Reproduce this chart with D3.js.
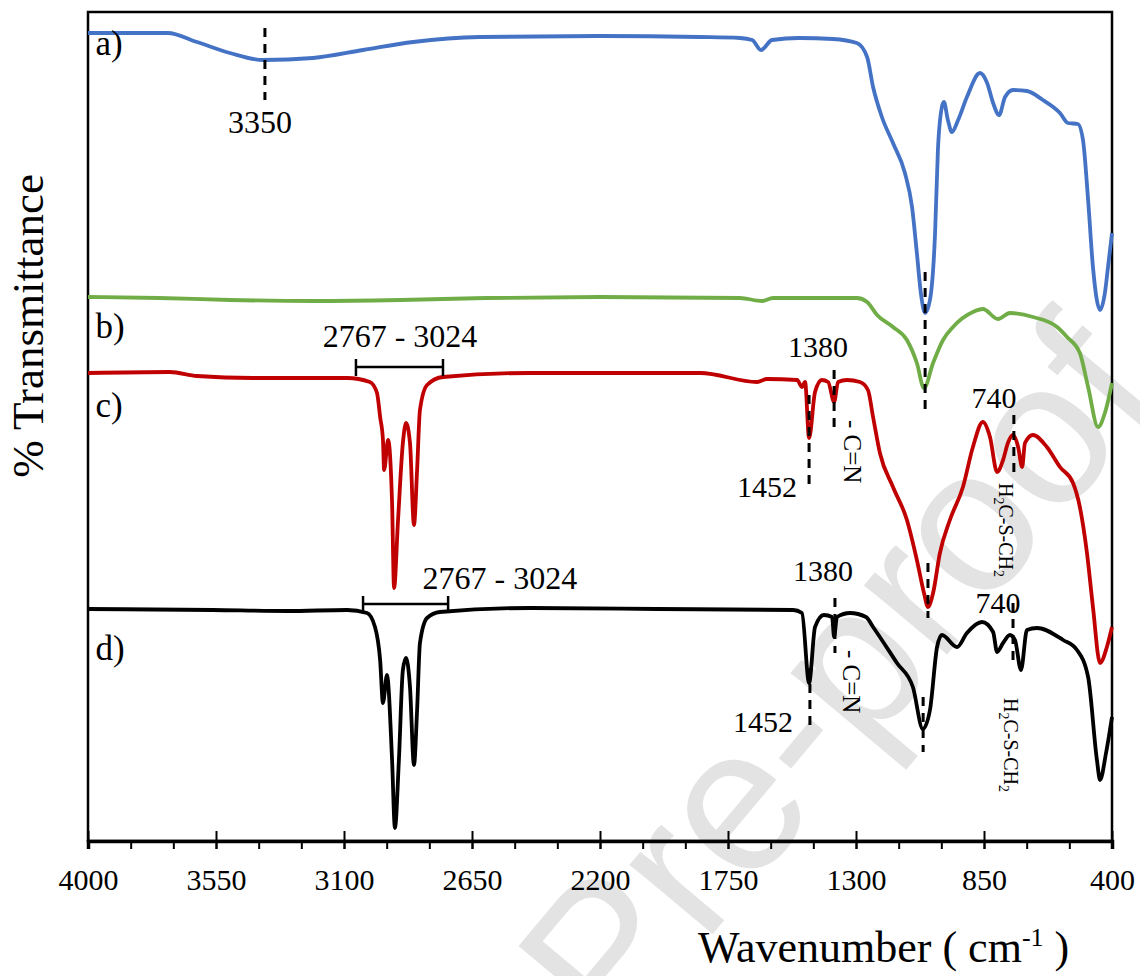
<!DOCTYPE html>
<html>
<head>
<meta charset="utf-8">
<title>FTIR spectra</title>
<script src="https://cdn.jsdelivr.net/npm/d3@7"></script>
<style>
  body { margin: 0; background: #fff; }
  svg text { font-family: "Liberation Serif", "Times New Roman", serif; fill: #000; }
</style>
</head>
<body>
<div id="chart"></div>
<script>
// spectra: [wavenumber cm-1, stacked % transmittance]
const specA = [
  [4000, 80.8], [3850, 80.8], [3720, 80.8], [3617, 79.9], [3501, 78.8], [3385, 78.1],
  [3209, 78.3], [3033, 79.1], [2857, 79.9], [2622, 80.4], [2200, 80.5], [1850, 80.4],
  [1708, 80.3], [1665, 80.1], [1634, 79.1], [1595, 80.1], [1500, 80.3], [1381, 80.2],
  [1297, 79.8], [1261, 78.4], [1240, 75.4], [1209, 72.4], [1170, 69.8], [1128, 66.8],
  [1103, 63.4], [1086, 58.8], [1072, 54.8], [1057, 52.8], [1040, 54.1], [1022, 60.8],
  [1012, 69.1], [998, 73.4], [991, 73.9], [977, 72.1], [963, 70.9], [941, 72.1],
  [910, 74.4], [864, 76.8], [839, 75.8], [818, 73.8], [797, 72.6], [776, 74.4],
  [748, 75.1], [699, 75.0], [643, 74.1], [583, 72.8], [555, 71.8], [520, 71.7],
  [502, 70.1], [484, 64.1], [467, 57.4], [442, 53.1], [425, 54.8], [414, 57.4], [400, 60.8]
];
const specB = [
  [4000, 54.4], [3750, 54.3], [3500, 54.1], [3200, 54.0], [2900, 54.1], [2600, 54.3],
  [2200, 54.4], [1708, 54.3], [1630, 54.0], [1592, 54.3], [1297, 54.3], [1261, 53.9],
  [1226, 52.6], [1170, 51.4], [1121, 50.1], [1086, 47.8], [1061, 45.3], [1029, 47.8],
  [994, 50.1], [959, 51.4], [889, 52.9], [854, 53.2], [801, 52.2], [759, 52.8],
  [678, 52.4], [593, 51.4], [558, 50.4], [513, 48.8], [484, 45.4], [449, 41.4],
  [425, 42.8], [400, 45.8]
];
const specC = [
  [4000, 46.8], [3712, 46.9], [3617, 46.5], [3420, 46.3], [3089, 46.3], [3009, 45.9],
  [2984, 44.8], [2973, 42.4], [2963, 40.1], [2959, 37.1], [2945, 40.1], [2931, 33.8],
  [2924, 25.3], [2910, 32.1], [2893, 39.8], [2882, 41.8], [2868, 39.8], [2854, 31.6],
  [2843, 37.1], [2833, 43.1], [2808, 45.6], [2752, 46.4], [2446, 46.8], [2100, 46.8],
  [1848, 46.8], [1648, 45.9], [1613, 46.2], [1507, 46.1], [1490, 45.4], [1479, 45.9],
  [1465, 40.3], [1444, 44.9], [1420, 46.1], [1398, 45.9], [1377, 43.9], [1363, 45.9],
  [1332, 46.1], [1286, 45.9], [1258, 45.1], [1240, 42.4], [1216, 38.8], [1170, 35.4],
  [1121, 32.1], [1086, 28.1], [1061, 24.8], [1047, 23.4], [1029, 24.8], [1005, 28.8],
  [970, 32.1], [924, 35.4], [889, 39.4], [854, 41.9], [829, 40.4], [804, 36.9],
  [783, 38.1], [766, 39.8], [748, 40.6], [730, 39.4], [716, 37.4], [706, 39.8],
  [678, 40.6], [629, 39.4], [583, 37.4], [537, 35.8], [513, 33.4], [488, 28.8],
  [467, 23.4], [442, 17.8], [418, 19.4], [400, 21.4]
];
const specD = [
  [4000, 23.2], [3561, 23.1], [3300, 23.0], [3089, 23.1], [3019, 22.8], [2991, 21.4],
  [2973, 18.1], [2963, 13.8], [2949, 16.6], [2931, 8.1], [2921, 1.3], [2907, 8.1],
  [2893, 17.1], [2882, 18.3], [2868, 15.4], [2854, 7.6], [2843, 13.1], [2833, 19.8],
  [2808, 22.3], [2763, 22.9], [2446, 23.3], [2000, 23.2], [1521, 23.1], [1490, 22.8],
  [1465, 15.8], [1444, 21.4], [1413, 22.6], [1384, 22.4], [1377, 20.4], [1367, 22.4],
  [1321, 22.8], [1265, 22.4], [1240, 21.4], [1156, 17.8], [1100, 15.4], [1065, 11.2],
  [1040, 13.1], [1015, 19.4], [998, 20.6], [945, 19.4], [910, 20.8], [857, 21.9],
  [818, 20.9], [804, 18.9], [783, 19.8], [759, 20.6], [741, 20.1], [720, 17.1],
  [699, 21.1], [664, 21.3], [572, 20.1], [523, 19.1], [484, 16.4], [453, 8.1],
  [442, 6.1], [421, 8.8], [400, 12.4]
];
const seriesNames = ["a)", "b)", "c)", "d)"];
const seriesColors = ["#4472C4", "#70AD47", "#C00000", "#000000"];
const seriesLabelAt = [[3974, 78.6], [3974, 50.3], [3974, 42.4], [3974, 18.1]];

// axis ticks
const majorTicks = [4000, 3550, 3100, 2650, 2200, 1750, 1300, 850, 400];
const minorTicks = d3.range(4000, 399, -150);

// peak markers: dashed line at wavenumber, from T1 to T2
const peakLines = [
  [3378, 81.3, 74.1], [1057, 56.9, 43.1],
  [1465, 44.6, 35.4], [1377, 47.1, 41.3], [1047, 27.8, 22.3], [745, 42.6, 36.9],
  [1462, 17.3, 11.1], [1374, 24.3, 18.8], [1064, 14.4, 8.9], [748, 23.8, 17.4]
];
// peak labels: text, wavenumber, T (baseline), font size
const peakLabels = [
  ["3350", 3395, 70.8, 32],
  ["2767 - 3024", 2903, 49.4, 32], ["2767 - 3024", 2552, 25.2, 32],
  ["1380", 1434, 48.4, 30], ["1452", 1613, 34.4, 30], ["740", 815, 43.3, 30],
  ["1380", 1416, 26.0, 30], ["1452", 1627, 10.9, 30], ["740", 801, 22.8, 30]
];
// range brackets: from, to, T
const brackets = [[3058, 2752, 47.4], [3033, 2734, 23.7]];
// vertical group labels: wavenumber of baseline, T at text start
const bondLabels = [
  ["cn", 1346, 42.1], ["cn", 1349, 19.1],
  ["hcs", 801, 35.8], ["hcs", 783, 14.3]
];


// chart dimensions
const w = 1140;
const h = 976;
const padLeft = 88;
const padRight = 28;
const padTop = 12;
const padBot = 135;

const svg = d3.select("#chart")
  .append("svg")
  .attr("width", w)
  .attr("height", h);

// WATERMARK (runs off the picture edges, as in the source)
svg.append("text")
  .text("Journal Pre-proof")
  .attr("text-anchor", "end")
  .attr("transform", "translate(1165,395) rotate(-50)")
  .style("font-family", "'Liberation Sans', Arial, sans-serif")
  .style("font-size", "205px")
  .style("fill", "#e3e3e3");

// scales
const xScale = d3.scaleLinear()
  .domain([4000, 400])
  .range([padLeft, w - padRight]);
const yScale = d3.scaleLinear()
  .domain([0, 82.9])
  .range([h - padBot, padTop]);

// frame
svg.append("rect")
  .attr("x", padLeft)
  .attr("y", padTop)
  .attr("width", w - padRight - padLeft)
  .attr("height", h - padBot - padTop)
  .attr("fill", "none")
  .attr("stroke", "#000")
  .attr("stroke-width", 2.5);

// X axis: minor ticks outside, major ticks crossing the axis line
const xAxisMinor = d3.axisBottom(xScale)
  .tickValues(minorTicks)
  .tickSize(8)
  .tickFormat("");
svg.append("g")
  .attr("transform", `translate(0, ${h - padBot})`)
  .call(xAxisMinor)
  .call(g => g.selectAll("line").attr("stroke-width", 2))
  .call(g => g.select(".domain").attr("stroke-width", 3.5));

const xAxisMajor = d3.axisBottom(xScale)
  .tickValues(majorTicks)
  .tickSizeInner(-10)
  .tickSizeOuter(0)
  .tickPadding(28)
  .tickFormat(d3.format("d"));
svg.append("g")
  .attr("transform", `translate(0, ${h - padBot})`)
  .call(xAxisMajor)
  .attr("font-family", "'Liberation Serif', serif")
  .attr("font-size", 30)
  .call(g => g.select(".domain").remove())
  .call(g => g.selectAll("line").attr("y1", 8).attr("stroke-width", 2))
  .call(g => g.selectAll("text")
    .style("font-family", "'Liberation Serif', serif")
    .style("font-size", "30px"));

// axis titles
svg.append("text")
  .text("% Transmittance")
  .attr("text-anchor", "middle")
  .attr("transform", "translate(43, 326) rotate(-90)")
  .style("font-size", "45px");
const xTitle = svg.append("text")
  .attr("x", 698)
  .attr("y", 962)
  .style("font-size", "44px");
xTitle.append("tspan").text("Wavenumber ( cm");
xTitle.append("tspan").text("-1").attr("dy", -16).style("font-size", "26px");
xTitle.append("tspan").text(" )").attr("dy", 16);

// SPECTRA
const line = d3.line()
  .x(d => xScale(d[0]))
  .y(d => yScale(d[1]))
  .curve(d3.curveMonotoneX);
[specA, specB, specC, specD].forEach((spec, i) => {
  svg.append("path")
    .datum(spec)
    .attr("d", line)
    .attr("fill", "none")
    .attr("stroke", seriesColors[i])
    .attr("stroke-width", 3.8)
    .attr("stroke-linejoin", "round");
});

// series labels
svg.selectAll(".series-label")
  .data(seriesNames)
  .enter()
  .append("text")
  .attr("class", "series-label")
  .text(d => d)
  .attr("x", (d, i) => xScale(seriesLabelAt[i][0]))
  .attr("y", (d, i) => yScale(seriesLabelAt[i][1]))
  .style("font-size", "35px");

// peak dashed markers
svg.selectAll(".peak-line")
  .data(peakLines)
  .enter()
  .append("line")
  .attr("class", "peak-line")
  .attr("x1", d => xScale(d[0]))
  .attr("x2", d => xScale(d[0]))
  .attr("y1", d => yScale(d[1]))
  .attr("y2", d => yScale(d[2]))
  .attr("stroke", "#000")
  .attr("stroke-width", 3)
  .attr("stroke-dasharray", "9,7");

svg.selectAll(".peak-label")
  .data(peakLabels)
  .enter()
  .append("text")
  .attr("class", "peak-label")
  .text(d => d[0])
  .attr("text-anchor", "middle")
  .attr("x", d => xScale(d[1]))
  .attr("y", d => yScale(d[2]))
  .style("font-size", d => d[3] + "px");

// brackets over the C-H stretch region
brackets.forEach(b => {
  const g = svg.append("g")
    .attr("stroke", "#000")
    .attr("stroke-width", 2.5);
  g.append("line")
    .attr("x1", xScale(b[0])).attr("x2", xScale(b[1]))
    .attr("y1", yScale(b[2])).attr("y2", yScale(b[2]));
  [b[0], b[1]].forEach(v => {
    g.append("line")
      .attr("x1", xScale(v)).attr("x2", xScale(v))
      .attr("y1", yScale(b[2]) - 8).attr("y2", yScale(b[2]) + 9);
  });
});

// rotated bond labels
bondLabels.forEach(b => {
  const t = svg.append("text")
    .attr("transform", `translate(${xScale(b[1])}, ${yScale(b[2])}) rotate(90)`)
    .attr("dy", "-0.05em");
  if (b[0] === "cn") {
    t.style("font-size", "25px").text("- C=N");
  } else {
    t.style("font-size", "20px");
    t.append("tspan").text("H");
    t.append("tspan").text("2").attr("dy", 5).style("font-size", "14px");
    t.append("tspan").text("C-S-CH").attr("dy", -5);
    t.append("tspan").text("2").attr("dy", 5).style("font-size", "14px");
  }
});
</script>
</body>
</html>
